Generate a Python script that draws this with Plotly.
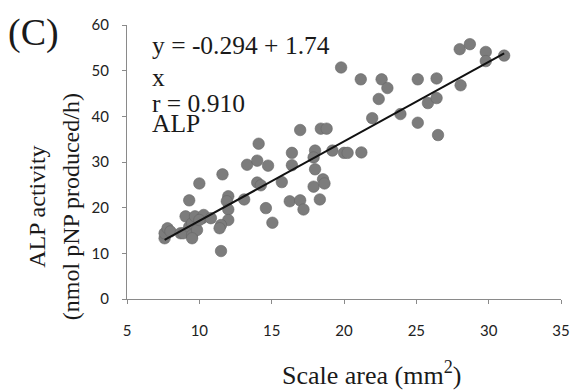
import plotly.graph_objects as go

# Data
scale_area = [7.6, 7.6, 7.8, 8.0, 8.7, 8.9, 9.05, 9.3, 9.5, 9.5, 9.7, 9.84, 10.2, 9.3, 10.0,
              10.3, 10.0, 9.5, 10.8,
              11.6, 11.5, 12.0, 11.9, 12.0, 12.0, 11.5, 11.4, 13.1, 13.3, 14.0, 14.1, 14.75,
              14.0, 14.25, 14.6, 15.05, 15.7,
              16.25, 16.4, 16.4, 16.97, 16.97, 17.2, 17.9, 18.0, 17.9, 18.0, 18.33, 18.4, 18.8,
              18.55, 18.65, 19.2, 20.0, 20.25, 21.2, 19.8,
              21.16, 21.95, 22.4, 22.6, 23.0, 23.9, 25.1, 25.1, 26.4, 25.8, 26.4, 26.5, 28.06,
              28.0, 28.7, 29.8, 29.8, 31.07]
alp_activity = [13.3, 14.4, 15.5, 14.8, 14.4, 14.4, 18.1, 15.8, 16.6, 14.0, 18.1, 15.1, 17.7, 21.6, 25.3,
                18.4, 17.3, 13.3, 17.7,
                27.3, 10.5, 22.5, 21.4, 19.6, 17.3, 16.2, 15.5, 21.8, 29.4, 30.3, 34.0, 29.2,
                25.5, 24.9, 19.9, 16.7, 25.6,
                21.4, 32.0, 29.3, 37.0, 21.6, 19.6, 24.6, 32.5, 31.0, 28.4, 21.8, 37.3, 37.3,
                26.2, 25.3, 32.5, 32.0, 32.0, 32.1, 50.7,
                48.1, 39.6, 43.8, 48.1, 46.2, 40.5, 38.6, 48.1, 48.3, 42.9, 44.0, 35.9, 46.8,
                54.7, 55.8, 54.1, 52.1, 53.3]

intercept = -0.294
slope = 1.74
fit_x = [min(scale_area), max(scale_area)]
fit_y = [intercept + slope * v for v in fit_x]

x_ticks = [5, 10, 15, 20, 25, 30, 35]
y_ticks = [0, 10, 20, 30, 40, 50, 60]

serif = "Liberation Serif"
sans = "Lato"

fig = go.Figure()
fig.add_trace(go.Scatter(x=scale_area, y=alp_activity, mode="markers",
                         marker=dict(size=11.5, color="#7c7c7c",
                                     line=dict(width=0.6, color="#666666")),
                         showlegend=False))
fig.add_trace(go.Scatter(x=fit_x, y=fit_y, mode="lines",
                         line=dict(color="#111111", width=2), showlegend=False))

axis_common = dict(showgrid=False, zeroline=False, showline=True, linecolor="#8a8a8a",
                   linewidth=1.2, ticks="outside", ticklen=4, tickcolor="#8a8a8a",
                   tickfont=dict(family=sans, size=15, color="#222222"))
fig.update_xaxes(range=[5, 35], tickvals=x_ticks, ticktext=[str(v) for v in x_ticks],
                 ticklabelstandoff=14, **axis_common)
fig.update_yaxes(range=[0, 60], tickvals=y_ticks, ticktext=[str(v) for v in y_ticks],
                 ticklabelstandoff=10, **axis_common)

ann = []
def add(text, x, y, size, rot=0, xanchor="left", yanchor="middle", family=serif):
    ann.append(dict(text=text, x=x, y=y, xref="paper", yref="paper", showarrow=False,
                    xanchor=xanchor, yanchor=yanchor, textangle=rot,
                    font=dict(family=family, size=size, color="#1a1a1a")))

W, H = 581, 391
L, R, T, B = 127, 11, 25, 92
pw, ph = W - L - R, H - T - B
def px(xp):
    return (xp - L) / pw
def py(yp):
    return (H - B - yp) / ph

add("y = -0.294 + 1.74", px(150), py(45), 25.5)
add("x", px(150), py(77), 25.5)
add("r = 0.910", px(150), py(103), 25.5)
add("ALP", px(150), py(124), 25.5)
add("(C)", px(3), py(32), 38)
add("ALP activity", px(35), py(207), 24, rot=-90, xanchor="center")
add("(nmol pNP produced/h)", px(70), py(207), 24, rot=-90, xanchor="center")
add("Scale area (mm<sup>2</sup>)", px(377), py(373), 26, xanchor="center")

fig.update_layout(width=W, height=H, margin=dict(l=L, r=R, t=T, b=B),
                  plot_bgcolor="white", paper_bgcolor="white", annotations=ann)

fig.write_html("out.html")
